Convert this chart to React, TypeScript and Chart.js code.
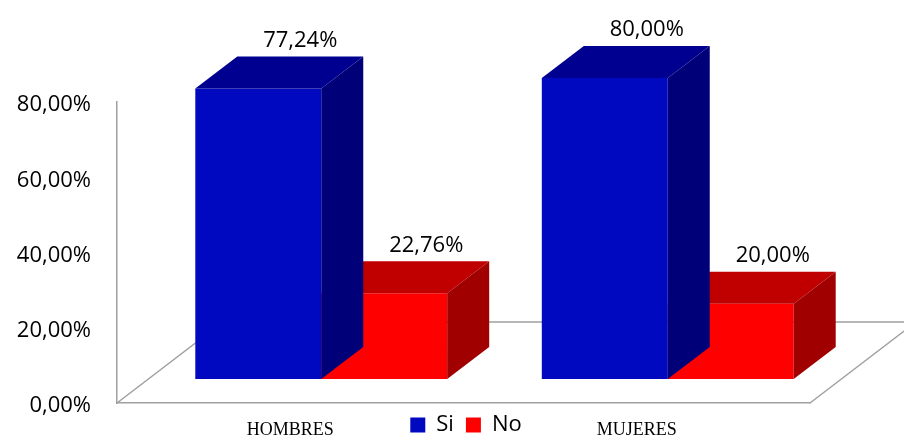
import { useEffect, useRef } from 'react';
import { Chart, registerables } from 'chart.js';

Chart.register(...registerables);

const CATEGORIES = ['HOMBRES', 'MUJERES'];
const SERIES_NAMES = ['Si', 'No'];
const SI_VALUES = [77.24, 80.0];
const NO_VALUES = [22.76, 20.0];
const Y_TICKS = [0, 20, 40, 60, 80];

const FRONT = ['#0009C0', '#FF0000'];
const TOP = ['#000090', '#C00000'];
const SIDE = ['#000078', '#A00000'];
const LINE = '#a0a0a0';

// 3D geometry (pixels)
const BAR_SHIFT_X = 31;
const BAR_SHIFT_Y = 24;
const BAR_DEPTH_X = 42;
const BAR_DEPTH_Y = 32;
const FLOOR_DEPTH_X = 106;
const FLOOR_DEPTH_Y = 81;

const fmt = (v: number) => v.toFixed(2).replace('.', ',') + '%';

const threeD = {
  id: 'threeD',
  afterLayout(chart: any) {
    const lg = chart.legend;
    const xs = chart.scales.x;
    if (lg) {
      lg.left += 61;
      lg.right += 61;
      lg.top -= 2;
      lg.bottom -= 2;
    }
    // let the category labels draw below the (thin) axis box
    xs.bottom = chart.height;
  },
  beforeDatasetsDraw(chart: any) {
    const { ctx, chartArea: a } = chart;
    ctx.save();
    ctx.strokeStyle = LINE;
    ctx.lineWidth = 1.5;
    ctx.beginPath();
    ctx.moveTo(a.left, a.bottom);
    ctx.lineTo(a.left + FLOOR_DEPTH_X, a.bottom - FLOOR_DEPTH_Y);
    ctx.lineTo(a.right + FLOOR_DEPTH_X, a.bottom - FLOOR_DEPTH_Y);
    ctx.moveTo(a.right, a.bottom);
    ctx.lineTo(a.right + FLOOR_DEPTH_X, a.bottom - FLOOR_DEPTH_Y);
    ctx.stroke();
    ctx.restore();
  },
  beforeDatasetDraw(chart: any) {
    chart.ctx.save();
    chart.ctx.translate(BAR_SHIFT_X, -BAR_SHIFT_Y);
  },
  afterDatasetDraw(chart: any, args: any) {
    const ctx = chart.ctx;
    const i = args.index;
    for (const el of args.meta.data) {
      const { x, y, base, width } = el.getProps(['x', 'y', 'base', 'width'], true);
      const l = x - width / 2;
      const r = x + width / 2;
      ctx.fillStyle = TOP[i];
      ctx.beginPath();
      ctx.moveTo(l, y);
      ctx.lineTo(l + BAR_DEPTH_X, y - BAR_DEPTH_Y);
      ctx.lineTo(r + BAR_DEPTH_X, y - BAR_DEPTH_Y);
      ctx.lineTo(r, y);
      ctx.closePath();
      ctx.fill();
      ctx.fillStyle = SIDE[i];
      ctx.beginPath();
      ctx.moveTo(r, y);
      ctx.lineTo(r + BAR_DEPTH_X, y - BAR_DEPTH_Y);
      ctx.lineTo(r + BAR_DEPTH_X, base - BAR_DEPTH_Y);
      ctx.lineTo(r, base);
      ctx.closePath();
      ctx.fill();
    }
    ctx.restore();
  },
  afterDatasetsDraw(chart: any) {
    const ctx = chart.ctx;
    ctx.save();
    ctx.font = '22px "Open Sans"';
    ctx.fillStyle = '#000';
    ctx.textAlign = 'center';
    ctx.textBaseline = 'middle';
    chart.data.datasets.forEach((ds: any, di: number) => {
      const meta = chart.getDatasetMeta(di);
      meta.data.forEach((el: any, j: number) => {
        const { x, y } = el.getProps(['x', 'y'], true);
        const cx = x + BAR_SHIFT_X + BAR_DEPTH_X;
        const cy = y - BAR_SHIFT_Y - BAR_DEPTH_Y - 16;
        ctx.fillText(fmt(ds.data[j]), cx, cy);
      });
    });
    ctx.restore();
  },
};

export default function App() {
  const ref = useRef<HTMLCanvasElement>(null);
  useEffect(() => {
    if (!ref.current) return;
    const chart = new Chart(ref.current, {
      type: 'bar',
      data: {
        labels: CATEGORIES,
        datasets: [
          { label: SERIES_NAMES[0], data: SI_VALUES, backgroundColor: FRONT[0], borderWidth: 0, clip: false as any },
          { label: SERIES_NAMES[1], data: NO_VALUES, backgroundColor: FRONT[1], borderWidth: 0, clip: false as any },
        ],
      },
      options: {
        animation: false,
        responsive: false,
        maintainAspectRatio: false,
        layout: { padding: { top: 102, right: 94, left: 0, bottom: 0 } },
        datasets: { bar: { categoryPercentage: 0.727, barPercentage: 1 } },
        plugins: {
          legend: {
            position: 'bottom',
            maxHeight: 35,
            labels: {
              boxWidth: 15,
              boxHeight: 15,
              padding: 12,
              color: '#000',
              font: { family: 'Open Sans', size: 22 },
            },
          },
          tooltip: { enabled: false },
        },
        scales: {
          x: {
            grid: { display: false, drawTicks: false },
            border: { display: true, color: LINE, width: 1.5 },
            ticks: { padding: 16, color: '#000', font: { family: 'Liberation Serif', size: 18 } },
            afterFit: (s: any) => {
              s.height = 1;
            },
          },
          y: {
            min: 0,
            max: 80,
            afterBuildTicks: (s: any) => {
              s.ticks = Y_TICKS.map((v) => ({ value: v }));
            },
            grid: { display: false, drawTicks: false },
            border: { display: true, color: LINE, width: 1.5 },
            ticks: {
              padding: 26,
              labelOffset: 3,
              color: '#000',
              font: { family: 'Open Sans', size: 22 },
              callback: (v: any) => fmt(Number(v)),
            },
            afterFit: (s: any) => {
              s.width = 117;
              s.paddingTop = 0;
              s.paddingBottom = 0;
            },
          },
        },
      } as any,
      plugins: [threeD],
    });
    return () => chart.destroy();
  }, []);
  return (
    <div style={{ position: 'fixed', left: 0, top: 0, width: 904, height: 439 }}>
      <canvas ref={ref} width={904} height={439} style={{ display: 'block' }} />
    </div>
  );
}
